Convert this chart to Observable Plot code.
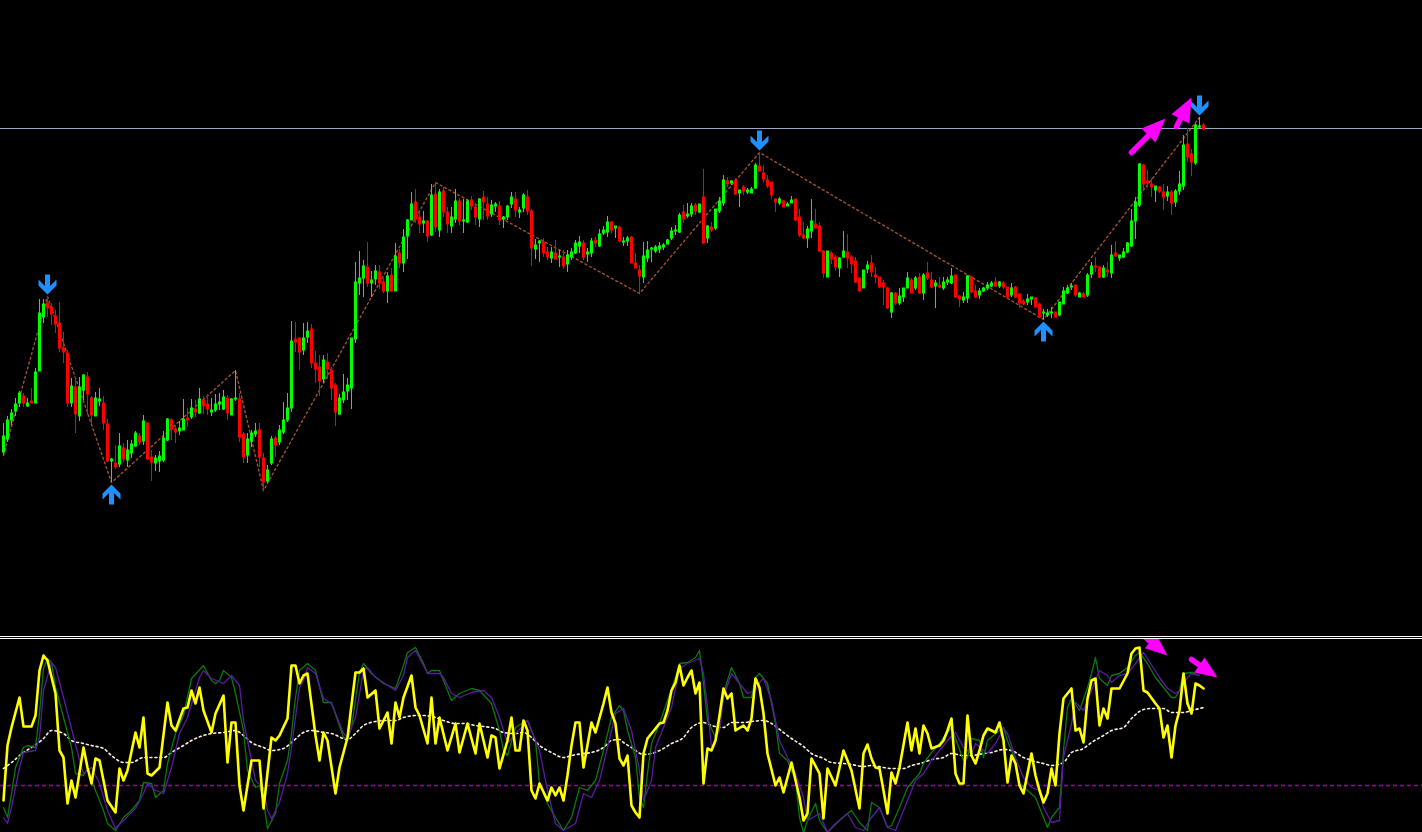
<!DOCTYPE html>
<html><head><meta charset="utf-8">
<script src="https://cdn.jsdelivr.net/npm/d3@7"></script>
<script src="https://cdn.jsdelivr.net/npm/@observablehq/plot@0.6"></script>
<style>
html,body{margin:0;padding:0;background:#000;overflow:hidden;}
#sep{height:1px;border-top:1px solid #fff;border-bottom:1px solid #fff;background:#000;}
svg{display:block;}
</style></head><body>
<div id="top"></div><div id="sep"></div><div id="bot"></div>
<script>
// ---- price candles (index = bar number) ----
const openP = [
184,197,216,225,233,240,230,235,233,265,
319,333,329,320,313,288,283,233,249,220,
246,259,238,220,235,233,212,175,173,172,
188,176,183,190,200,195,213,179,173,175,
176,196,216,207,205,206,218,219,227,223,
236,232,224,226,232,227,238,221,237,237,
202,181,195,202,206,178,155,173,198,194,
204,216,228,297,298,286,299,307,273,269,
257,274,266,251,222,236,245,248,297,353,
358,369,353,357,364,354,345,361,345,383,
373,400,416,434,419,413,415,401,442,406,
445,424,410,417,435,415,414,436,429,417,
439,432,422,430,430,417,419,432,437,424,
428,439,425,387,393,394,384,378,383,379,
379,372,379,383,390,393,382,383,396,390,
403,404,414,408,409,394,395,399,373,366,
359,378,387,385,387,389,392,398,405,404,
424,420,422,431,424,439,398,409,408,425,
433,455,453,456,443,449,444,443,448,470,
463,456,454,437,433,435,430,433,437,419,
401,398,405,412,410,385,359,383,379,368,
379,384,379,375,358,348,367,373,361,359,
353,348,324,343,333,339,348,356,348,359,
343,363,356,350,351,348,354,353,361,340,
336,338,359,345,341,345,348,350,354,350,
353,349,341,349,342,335,334,337,338,332,
323,321,323,324,321,332,343,349,351,339,
342,341,362,370,369,359,366,363,383,378,
379,384,390,415,431,471,455,452,446,449,
444,440,444,434,445,450,492,482,473,509,
511];
const highP = [
213,220,227,238,245,243,238,248,268,337,
337,340,333,326,334,304,286,258,259,259,
262,264,240,244,248,240,217,178,191,203,
193,196,196,205,203,221,214,186,181,185,
205,218,218,211,215,237,228,237,236,248,
240,242,238,242,243,246,241,238,266,243,
204,203,206,213,213,183,171,200,200,211,
234,243,315,314,298,313,314,312,285,281,
281,283,269,253,242,262,258,298,374,385,
376,394,365,371,371,358,364,368,393,387,
407,417,444,447,424,425,416,452,454,447,
449,429,429,447,438,437,437,440,433,438,
445,439,436,434,435,420,431,444,444,429,
443,446,427,397,396,398,389,389,396,386,
386,386,388,396,400,396,388,398,399,407,
410,420,415,410,410,399,400,400,383,371,
394,395,389,391,394,393,397,409,411,423,
431,433,433,433,432,467,411,414,427,439,
461,459,456,458,446,451,448,449,473,484,
471,461,454,438,439,436,434,440,437,427,
414,410,437,427,414,386,385,385,381,379,
405,402,381,379,359,366,375,381,369,359,
356,349,344,344,348,348,364,358,360,363,
363,374,364,356,359,359,359,368,361,341,
344,361,360,351,348,349,354,355,359,355,
355,349,353,350,343,337,342,339,339,333,
327,327,329,324,334,349,351,353,351,344,
344,363,374,379,369,371,374,391,395,381,
388,394,427,439,473,472,466,458,450,450,
452,450,446,447,465,501,508,487,513,519,
513];
const lowP = [
181,194,211,220,229,229,229,233,233,265,
313,319,311,303,284,273,229,229,203,215,
236,221,212,220,230,206,174,154,167,169,
174,169,178,189,191,191,176,155,165,164,
174,195,196,193,201,206,209,217,219,222,
222,221,220,224,226,226,216,221,235,194,
173,173,189,199,169,146,153,171,179,191,
202,214,224,284,266,281,293,268,253,240,
253,257,236,210,221,233,236,227,293,341,
339,349,339,351,347,343,333,344,345,368,
364,377,416,413,403,403,394,400,404,399,
419,403,403,413,411,403,413,426,411,409,
416,416,419,424,411,408,416,428,419,418,
424,421,370,377,374,379,376,373,376,369,
367,364,376,382,383,376,374,379,389,389,
401,399,403,398,394,390,390,373,368,343,
353,374,374,383,383,386,392,396,401,403,
413,418,419,421,423,392,393,404,406,423,
430,449,451,441,429,441,442,443,447,464,
454,448,437,424,431,429,430,433,415,399,
397,388,398,408,384,358,359,372,365,359,
378,368,363,353,344,348,363,359,353,348,
331,327,318,331,331,334,348,343,346,342,
336,356,348,328,348,346,351,352,338,329,
333,333,343,338,337,344,346,349,349,348,
347,338,339,338,328,331,331,331,329,319,
317,319,318,319,320,332,342,346,339,339,
339,339,358,364,358,358,359,358,379,375,
378,383,389,397,429,447,448,439,434,443,
426,435,421,429,441,446,474,460,471,508,
506];
const closeP = [
200,216,223,232,243,233,233,233,264,323,
332,328,322,312,288,284,233,250,222,249,
261,242,221,238,237,213,175,177,169,190,
177,186,192,203,194,215,177,174,178,180,
198,217,207,204,208,217,216,228,224,237,
230,227,226,232,234,239,223,237,238,199,
179,197,203,205,179,154,166,197,191,206,
216,228,295,294,284,298,305,273,267,255,
276,267,248,224,238,244,251,298,354,358,
370,353,356,365,353,345,360,345,380,373,
399,416,432,417,412,415,400,441,409,444,
424,412,419,435,415,416,435,430,419,437,
434,420,431,432,416,419,430,439,426,426,
441,425,388,391,395,383,379,384,377,380,
370,381,384,393,394,379,384,395,393,402,
406,414,406,410,395,395,398,373,368,360,
380,386,388,389,390,391,396,405,406,421,
417,422,430,425,432,393,410,406,427,435,
456,452,455,442,446,445,446,447,471,465,
457,450,441,434,437,429,432,436,416,401,
398,407,415,408,385,363,385,377,369,378,
385,378,372,354,345,366,371,364,359,349,
349,328,343,333,340,348,358,343,358,343,
361,358,349,353,349,354,356,360,339,337,
339,360,344,339,345,348,351,353,350,354,
349,339,348,339,333,332,337,339,329,319,
324,323,324,319,334,345,348,350,341,343,
339,361,370,369,359,368,364,381,380,381,
384,393,415,434,472,452,453,449,450,445,
439,444,433,445,452,491,479,474,511,510,
507];

// zigzag swing points
const zzIdx = [0, 11, 27, 58, 65, 108, 159, 189, 260, 299];
const zzP   = [181, 340, 154, 266, 146, 454, 343, 484, 317, 519];
// swing arrows
const swingHighIdx = [11, 189, 299];
const swingLowIdx  = [27, 260];
// horizontal price level
const priceLevels = [508];
// divergence arrows (price panel): tail (x1,y1) -> tip (x2,y2)
const pArrX1 = [282, 293.25], pArrY1 = [484, 510], pArrX2 = [290.5, 297], pArrY2 = [518, 539];

// ---- oscillator panel ----
const oscIdx = [
0,1,2,4,5,7,8,9,10,11,
13,14,15,16,17,18,20,21,22,23,
24,26,28,29,30,31,33,34,35,36,
37,39,41,42,43,45,46,47,48,49,
50,52,53,55,56,57,58,59,60,62,
64,65,67,68,69,71,72,73,74,75,
76,78,79,80,81,83,84,86,88,89,
90,91,93,94,96,97,98,99,100,102,
103,104,106,107,108,109,111,113,114,116,
118,119,121,122,123,124,126,127,128,129,
130,131,132,133,134,136,137,138,139,140,
141,142,143,144,145,147,148,150,151,152,
153,154,155,156,157,158,159,160,161,164,
165,166,167,168,169,170,171,172,173,174,
175,176,177,178,179,180,181,182,183,185,
186,187,188,189,190,191,193,194,195,197,
199,200,201,202,204,205,206,208,210,212,
214,215,216,217,218,219,220,221,222,223,
224,226,227,228,229,230,231,232,234,235,
236,237,238,239,240,241,242,243,244,245,
246,248,249,250,251,252,253,254,255,257,
258,259,260,261,262,263,264,265,267,268,
269,270,271,272,273,274,275,276,277,279,
281,282,283,284,285,286,288,289,290,291,
292,293,294,295,296,297,298,299,300];
const oscVal = [
12.5,40,49,64,49.5,49.5,55,77.5,85,82.5,
66,37.5,34,11,22.5,14,39,29,21,33.5,
32.5,12.5,6.5,28.5,22.5,27.5,46.5,39,54,26,
25,29,61.5,50,47.5,58.5,59,67.5,61,69,
57.5,46.5,56,65,31.5,51.5,51.5,20,7.5,32.5,
32.5,8.5,44,42.5,45,53.5,80,80,71,75,
76,45,32.5,46.5,42.5,16,29,44,76.5,76.5,
78.5,64,67.5,48.5,56.5,41,61.5,54,64,75,
59,55,41,64,41,54,37.5,51,36.5,51,
36,51,34,45,44,28.5,42.5,54,37.5,37.5,
52.5,47.5,17.5,13.5,21,12.5,19,15,19,12.5,
25,40,51.5,51.5,29,51.5,46.5,61,69,56.5,
51,33.5,30,35,10,6.5,4,36,43.5,51,
51.5,57.5,67.5,71.5,80,70,74,77.5,66,71.5,
21,38.5,37.5,42.5,55,68.5,63.5,66,47.5,50,
47.5,53.5,73.5,69,56,36,20,24,16.5,31.5,
14,2.5,6,33.5,26,3.5,28.5,20,37.5,27.5,
8.5,36,40.5,33.5,29,28.5,17.5,6,26.5,21,
29,51.5,37.5,48.5,36,50,46,38.5,40,42.5,
47.5,53.5,26,21,21,55,35,31,37.5,45,
48.5,46.5,51.5,42.5,21.5,35,31,20,16,36,
25,17.5,11.5,16,28.5,20,46,63.5,68.5,47.5,
48.5,41.5,63.5,72.5,73.5,50,58.5,53.5,68.5,68.5,
76,86,88.5,89,67.5,66.5,61,58.5,44,50,
34,50,57.5,76,61,56,71,70,68.5];

const fastIdx = [
0,1,2,3,5,6,8,9,10,11,12,13,15,17,18,20,21,22,25,26,
28,30,32,34,35,37,38,40,41,43,45,47,50,52,53,54,55,57,58,60,
61,63,64,65,66,68,69,71,72,73,74,76,78,80,82,85,86,87,89,90,
92,95,98,100,101,103,105,106,107,109,111,112,114,117,119,122,124,125,126,128,
130,131,133,134,136,138,140,142,144,146,148,150,152,154,155,156,158,159,160,161,
162,164,166,168,169,171,173,174,175,176,178,179,180,181,182,184,185,187,188,189,
191,193,194,196,198,199,200,201,203,204,206,209,211,212,214,216,217,219,221,222,
224,226,229,230,232,234,235,237,238,240,241,242,244,245,246,249,250,251,253,254,
256,258,259,261,262,264,265,266,267,269,271,272,273,274,276,277,279,281,283,284,
286,288,290,292,293,294,295,297,298];
const fastVal = [
9,4,16,29,39,40,39,56,78.5,83.5,81.5,69,54,39,26,25,28.5,22.5,7.5,1,
-2.5,4,7.5,12.5,21.5,21,14,17.5,31,46,55,73.5,80,72.5,71,72.5,77.5,74,66,47.5,
27.5,19,20,12.5,-1.5,6,21,32.5,46,64,77.5,81,77.5,61.5,61.5,44,43.5,49,76.5,81,
76,71,68.5,80,86.5,89,81,76,77.5,77.5,67.5,62.5,66,68.5,67.5,61,47.5,37.5,35,49,
51.5,52.5,42.5,21,11,4,-2.5,4,19,17.5,22.5,37.5,54,60,57.5,47.5,34,14,9,26,
41,51,62.5,74,81,81.5,84,87.5,71,52.5,44,49,66,72.5,79,71,64,64,74,76,
71,51,36,32.5,22.5,4,-3.5,2.5,11,2.5,-3.5,2.5,6,7.5,1.5,-2.5,11.5,9,-1,0,
9,19,26,31,36.5,41,44,49,43.5,32.5,34,43.5,42.5,34,42.5,47.5,49,42.5,32.5,21,
17.5,14,9,-1,4,9,37.5,59,63.5,57.5,69,76,84,73.5,70,75,76,79,85,86.5,
81,74,69,64,64,67.5,76,76.5,76];

const slowIdx = [
0,1,2,4,5,8,9,10,12,13,15,17,19,20,22,24,26,28,30,33,
35,36,38,40,42,44,46,49,50,52,55,57,59,60,62,63,65,66,67,69,
71,72,74,75,76,78,80,82,85,86,88,90,91,93,95,98,100,101,103,105,
106,109,110,112,114,117,120,122,124,126,128,130,131,134,136,138,140,143,145,147,
149,151,153,155,157,159,160,162,163,165,167,169,171,174,175,176,177,179,180,182,
184,186,188,189,190,192,194,196,198,200,201,204,206,208,211,213,215,217,219,221,
223,225,228,230,232,234,236,238,240,242,243,245,246,248,250,251,253,255,257,259,
260,262,264,265,267,268,270,271,273,274,276,277,279,281,283,285,286,289,291,293,
294,296,297,299];
const slowVal = [
4,1,9,29,36.5,37.5,44,67.5,81.5,79,64,48.5,32.5,26,29,21,7.5,-1.5,2.5,8.5,
16,21,17.5,16,29,46,54,74,77.5,73.5,71,75,70,52.5,32.5,22.5,19,7.5,3.5,11.5,
26,39,69,72.5,79,76,63.5,61,46,44,54,77.5,79,74,71.5,67.5,75,84,87.5,80,
76,76,74,66,64,66.5,67.5,64,54,41,46,50,52.5,37.5,17.5,1,-2.5,1,16,14,
22.5,39,56,58.5,47.5,27.5,12.5,22.5,39,49,59,78.5,81,83.5,76,59,39,47.5,64,76,
71,66,67.5,71.5,73.5,62.5,42.5,34,26,14,2.5,6,-3.5,1,6,-1,-2.5,4,9,-1,
-2.5,7.5,22.5,26,32.5,37.5,42.5,46.5,39,36,41,37.5,36,41,48.5,46,34,24,19,17.5,
9,1.5,2.5,34,51,61.5,57.5,62.5,72.5,77.5,75,71.5,75,76,81,86.5,83.5,74,68.5,66,
67.5,74,76,75];

const maIdx = [
0,2,5,7,10,12,15,17,20,22,25,27,30,32,35,37,40,42,45,47,
50,52,55,58,60,62,65,67,70,72,75,77,80,82,85,86,88,90,93,95,
98,100,103,105,108,110,113,115,118,120,123,125,128,130,132,134,137,140,142,145,
147,150,152,154,155,157,160,162,165,167,170,172,175,177,180,182,185,187,190,192,
195,197,200,202,205,207,210,212,215,217,220,222,225,227,230,232,235,237,240,242,
245,247,250,252,255,257,260,262,265,267,270,272,275,277,280,282,285,287,290,292,
295,297,300];
const maVal = [
28.5,31.5,36.5,39,43.5,47.5,46,42.5,41,40,38.5,35,31.5,31.5,34,34,34,36.5,40,42.5,
45,46,46.5,47.5,45,41.5,39,37.5,38.5,41.5,46.5,47.5,46.5,46,43.5,43,46,50,52,52.5,
52.5,54,55,55,54,52.5,51,51,50,49.5,48.5,46.5,46,46.5,44,40,36.5,34,35,36,
36.5,39,42.5,43,41.5,39,35.5,36,38.5,41,44,49,51.5,50,49,51.5,51.5,52,52.5,51,
46.5,43.5,39.5,36,33.5,31.5,31,30.5,29.5,30,29,28.5,28.5,30,31.5,33,34,36,35,35,
36,36.5,38,37.5,34,32.5,31,30,31.5,36.5,38.5,41.5,45,47.5,49,53.5,58,58.5,58.5,56.5,
56.5,57.5,59];

const oscLevels = [20];
// divergence arrows (oscillator panel): tail -> tip
const oArrX1 = [282, 297], oArrY1 = [100, 83], oArrX2 = [291, 303.5], oArrY2 = [85, 74];

// ---------- build ----------
const W = 1422, HT = 636, HB = 193;
const xDom = [-0.75, 354.75], yTopDom = [0, 636], yBotDom = [-3.5, 93];

const candles = openP.map((o, i) => ({i, o, h: highP[i], l: lowP[i], c: closeP[i]}));
const ups = candles.filter(d => d.c >= d.o);
const downs = candles.filter(d => d.c < d.o);
const bTop = d => Math.max(d.o, d.c), bBot = d => Math.min(d.o, d.c);
const zz = zzIdx.map((i, k) => ({i, p: zzP[k]}));
const hiArrows = swingHighIdx.map(i => candles[i]);
const loArrows = swingLowIdx.map(i => candles[i]);
const pArrows = pArrX1.map((x1, k) => ({x1, y1: pArrY1[k], x2: pArrX2[k], y2: pArrY2[k]}));
const oArrows = oArrX1.map((x1, k) => ({x1, y1: oArrY1[k], x2: oArrX2[k], y2: oArrY2[k]}));
const pts = (I, V) => I.map((i, k) => ({i, v: V[k]}));

// MT4-style thick arrow glyphs
const downSym = {draw(c){c.moveTo(0,10);c.lineTo(9,1);c.lineTo(9,-5);c.lineTo(2.5,1.5);c.lineTo(2.5,-10);c.lineTo(-2.5,-10);c.lineTo(-2.5,1.5);c.lineTo(-9,-5);c.lineTo(-9,1);c.closePath();}};
const upSym = {draw(c){c.moveTo(0,-10);c.lineTo(9,-1);c.lineTo(9,5);c.lineTo(2.5,-1.5);c.lineTo(2.5,10);c.lineTo(-2.5,10);c.lineTo(-2.5,-1.5);c.lineTo(-9,5);c.lineTo(-9,-1);c.closePath();}};

// scale functions identical to the plots' own scales (used to orient arrowheads)
function mkScale(domain, range) {
  try { const s = Plot.scale({x: {domain, range}}); if (s && s.apply) return v => s.apply(v); } catch (e) {}
  return d3.scaleLinear(domain, range);
}
const sx = mkScale(xDom, [0, W]);
const syTop = mkScale(yTopDom, [HT, 0]);
const syBot = mkScale(yBotDom, [HB, 0]);

// solid triangular head whose tip sits on the dot position
function headSymbol(a, sy, L, w) {
  const dx = sx(a.x2) - sx(a.x1), dy = sy(a.y2) - sy(a.y1);
  const len = Math.hypot(dx, dy), fx = dx / len, fy = dy / len, nx = -fy, ny = fx;
  return {draw(c) {
    c.moveTo(0, 0);
    c.lineTo(-L * fx + w * nx, -L * fy + w * ny);
    c.lineTo(-L * fx - w * nx, -L * fy - w * ny);
    c.closePath();
  }};
}
function fatArrows(data, sy, L, w) {
  return [
    Plot.arrow(data, {x1: "x1", y1: "y1", x2: "x2", y2: "y2", stroke: "#ff00ff", strokeWidth: 5.5,
      headLength: 0, insetEnd: 12, strokeLinecap: "round"}),
    ...data.map(a => Plot.dot([a], {x: "x2", y: "y2", r: 14, symbol: headSymbol(a, sy, L, w), fill: "#ff00ff", stroke: "none"}))
  ];
}

const topChart = Plot.plot({
  width: W, height: HT, margin: 0,
  x: {domain: xDom, axis: null},
  y: {domain: yTopDom, axis: null},
  style: {background: "#000", overflow: "hidden"},
  marks: [
    Plot.ruleY(priceLevels, {stroke: "#98a6c8", strokeWidth: 1}),
    Plot.line(zz, {x: "i", y: "p", stroke: "#a0522d", strokeWidth: 1.4, strokeDasharray: "2,3"}),
    Plot.ruleX(ups, {x: "i", y1: "h", y2: "l", stroke: "#00ff00", strokeWidth: 1}),
    Plot.ruleX(downs, {x: "i", y1: "h", y2: "l", stroke: "#ff0000", strokeWidth: 1}),
    Plot.ruleX(ups, {x: "i", y1: bTop, y2: bBot, stroke: "#00ff00", strokeWidth: 3, insetTop: -0.5, insetBottom: -0.5}),
    Plot.ruleX(downs, {x: "i", y1: bTop, y2: bBot, stroke: "#ff0000", strokeWidth: 3, insetTop: -0.5, insetBottom: -0.5}),
    Plot.dot(hiArrows, {x: "i", y: "h", symbol: downSym, r: 10, fill: "#1e90ff", stroke: "none", dy: -12}),
    Plot.dot(loArrows, {x: "i", y: "l", symbol: upSym, r: 10, fill: "#1e90ff", stroke: "none", dy: 12}),
    ...fatArrows(pArrows, syTop, 24, 10)
  ]
});
document.getElementById("top").appendChild(topChart);

const botChart = Plot.plot({
  width: W, height: HB, margin: 0,
  x: {domain: xDom, axis: null},
  y: {domain: yBotDom, axis: null},
  style: {background: "#000", overflow: "hidden"},
  marks: [
    Plot.ruleY(oscLevels, {stroke: "#a000a8", strokeWidth: 1.5, strokeDasharray: "4,3"}),
    Plot.line(pts(maIdx, maVal), {x: "i", y: "v", stroke: "#fff0e0", strokeWidth: 1.6, strokeDasharray: "2,3", curve: "monotone-x"}),
    Plot.line(pts(fastIdx, fastVal), {x: "i", y: "v", stroke: "#0a7a0a", strokeWidth: 1.3}),
    Plot.line(pts(slowIdx, slowVal), {x: "i", y: "v", stroke: "#5a1aa6", strokeWidth: 1.3}),
    Plot.line(pts(oscIdx, oscVal), {x: "i", y: "v", stroke: "#ffff00", strokeWidth: 2.6}),
    ...fatArrows(oArrows, syBot, 22, 9)
  ]
});
document.getElementById("bot").appendChild(botChart);
</script>
</body></html>
